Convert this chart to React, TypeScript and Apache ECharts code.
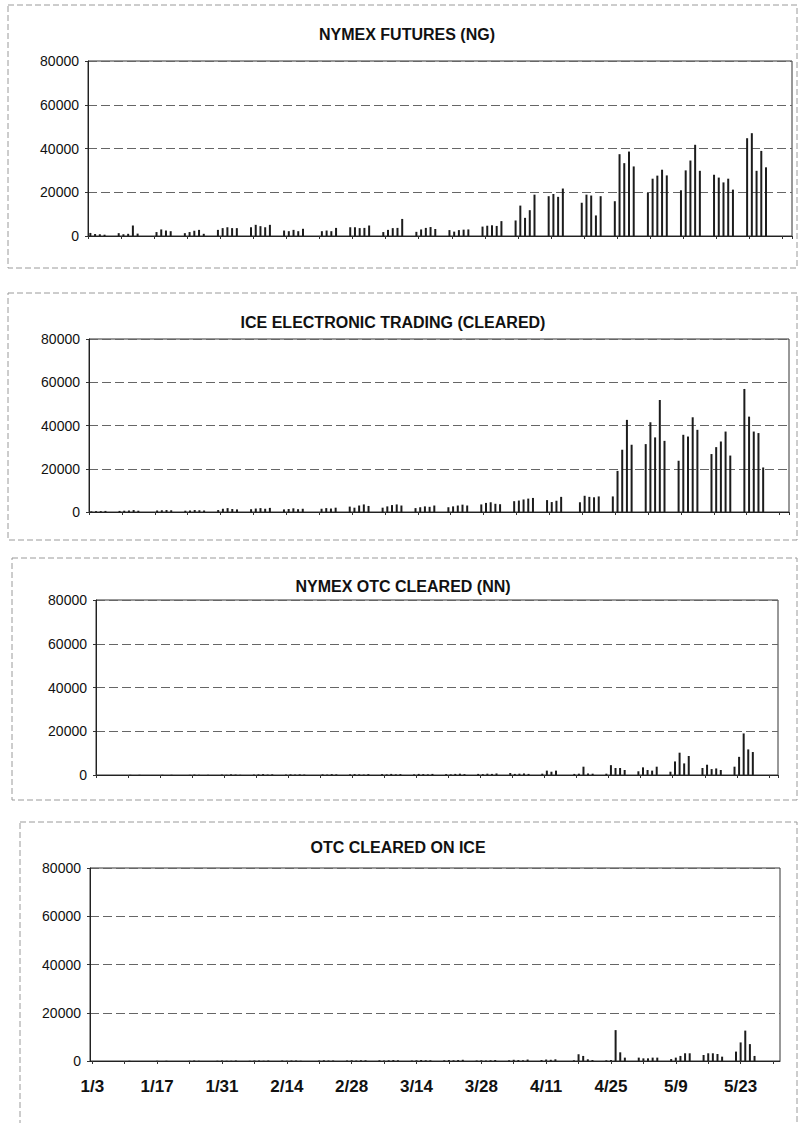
import React, { useEffect, useRef } from "react";
import * as echarts from "echarts";

// Calendar span of the x axis (2006) and market holidays inside it
const axisStart = "2006-01-03";
const axisEnd = "2006-05-31";
const lastTradingDay = "2006-05-26";
const holidays = ["1/16", "2/20", "4/14"];

// Daily volumes, one value per trading day (1/3 .. 5/26)
const nymexFutures = [
  1400, 900, 800, 600,
  1300, 800, 1000, 4800, 1100,
  1800, 3000, 2500, 2200,
  1300, 1800, 2400, 2800, 1000,
  2800, 3600, 4000, 3600, 3600,
  4000, 5100, 4500, 4000, 5100,
  2500, 2200, 2800, 2200, 3300,
  2200, 2500, 2200, 3700,
  4000, 4000, 3600, 3700, 4800,
  1800, 2800, 3600, 3700, 7800,
  1900, 3000, 3700, 4100, 3200,
  2700, 2000, 2700, 2900, 3000,
  4300, 4700, 4900, 4600, 6800,
  7100, 13900, 8300, 11800, 18900,
  18200, 19200, 17900, 21700,
  15200, 18900, 18500, 9400, 18200,
  15900, 37400, 33300, 38600, 31800,
  19700, 26200, 27600, 30300, 27700,
  20900, 30000, 34500, 41700, 29800,
  28000, 26700, 24500, 26200, 21200,
  44700, 47000, 29800, 38900, 31400,
];

const iceElectronic = [
  300, 400, 400, 500,
  500, 600, 700, 900, 600,
  700, 800, 900, 800,
  600, 700, 900, 800, 700,
  900, 1500, 1800, 1400, 1200,
  1300, 1600, 1800, 1500, 1900,
  1200, 1400, 1700, 1300, 1500,
  1500, 1800, 1600, 2000,
  2500, 2000, 3000, 3500, 2800,
  2000, 2600, 3200, 3500, 3000,
  1800, 2200, 2600, 2400, 3000,
  2200, 2600, 3000, 3400, 3000,
  3500, 4200, 4500, 3800, 3600,
  5000, 5300, 5800, 6200, 6500,
  5500, 4600, 5200, 7000,
  4500, 7500, 7000, 6800, 7200,
  7200, 19000, 28800, 42600, 31100,
  31400, 41500, 34500, 51800, 32900,
  23700, 35700, 34900, 43800, 38000,
  26800, 30000, 32600, 37200, 26100,
  56900, 44100, 37200, 36500, 20600,
];

const nymexOtc = [
  0, 0, 0, 0,
  0, 100, 0, 100, 0,
  100, 0, 100, 0,
  100, 200, 100, 0, 100,
  200, 100, 300, 200, 100,
  200, 300, 400, 200, 300,
  200, 300, 200, 300, 200,
  300, 200, 400, 300,
  300, 400, 300, 200, 400,
  400, 300, 500, 300, 400,
  300, 500, 400, 300, 500,
  400, 300, 500, 600, 400,
  500, 400, 600, 500, 700,
  900, 500, 600, 700, 500,
  600, 2000, 1500, 2000,
  500, 600, 3800, 700, 600,
  600, 4500, 3200, 3200, 2300,
  1700, 3500, 2300, 2000, 3800,
  1500, 6200, 10200, 5300, 8700,
  3200, 4700, 2700, 3000, 2300,
  3800, 8300, 19000, 11700, 10500,
];

const otcIce = [
  0, 0, 0, 0,
  0, 0, 100, 0, 0,
  100, 0, 100, 0,
  0, 100, 200, 100, 0,
  100, 200, 100, 100, 200,
  100, 200, 200, 100, 200,
  200, 100, 200, 200, 100,
  200, 300, 200, 200,
  200, 300, 200, 300, 300,
  300, 200, 300, 400, 300,
  200, 300, 400, 300, 300,
  300, 400, 300, 400, 500,
  200, 300, 200, 300, 400,
  300, 500, 400, 300, 600,
  400, 600, 500, 700,
  300, 2800, 2100, 700, 400,
  300, 400, 12800, 3600, 1400,
  1400, 1100, 1100, 1400, 1400,
  800, 1400, 2100, 3200, 3200,
  2500, 3200, 3200, 2900, 1800,
  3900, 7700, 12600, 7000, 2100,
];

const panelTitles = [
  "NYMEX FUTURES (NG)",
  "ICE ELECTRONIC TRADING (CLEARED)",
  "NYMEX OTC CLEARED (NN)",
  "OTC CLEARED ON ICE",
];
const panelSeries = [nymexFutures, iceElectronic, nymexOtc, otcIce];
const yTicks = [0, 20000, 40000, 60000, 80000];

// ---------- layout (pixels) ----------
const grids = [
  { left: 88, top: 61, width: 704, height: 175 },
  { left: 89, top: 339, width: 700, height: 173 },
  { left: 96, top: 600, width: 682, height: 175 },
  { left: 90, top: 868, width: 690, height: 193 },
];
const titlePos = [
  { x: 402, y: 21 },
  { x: 388, y: 309 },
  { x: 398, y: 573 },
  { x: 393, y: 834 },
];
const frames = [
  { x: 8, y: 5, w: 789, h: 263 },
  { x: 8, y: 293, w: 789, h: 247 },
  { x: 12, y: 558, w: 785, h: 242 },
  { x: 20, y: 822, w: 777, h: 320 },
];

function buildCalendar() {
  const out: { label: string; trading: boolean }[] = [];
  const d = new Date(axisStart + "T12:00:00");
  const end = new Date(axisEnd + "T12:00:00");
  const last = new Date(lastTradingDay + "T12:00:00");
  while (d <= end) {
    const label = `${d.getMonth() + 1}/${d.getDate()}`;
    const wd = d.getDay();
    const trading = wd !== 0 && wd !== 6 && !holidays.includes(label) && d <= last;
    out.push({ label, trading });
    d.setDate(d.getDate() + 1);
  }
  return out;
}

export default function App() {
  const ref = useRef<HTMLDivElement>(null);
  useEffect(() => {
    if (!ref.current) return;
    const chart = echarts.init(ref.current, null, { renderer: "svg" });
    const cal = buildCalendar();
    const categories = cal.map((c) => c.label);
    const toCalendar = (vals: number[]) => {
      let j = 0;
      return cal.map((c) => (c.trading ? (j < vals.length ? vals[j++] : null) : null));
    };
    const font = "'Liberation Sans', Arial, sans-serif";

    chart.setOption({
      animation: false,
      backgroundColor: "#ffffff",
      title: panelTitles.map((t, i) => ({
        text: t,
        left: titlePos[i].x,
        top: titlePos[i].y,
        textAlign: "center",
        textStyle: { fontSize: 16, fontWeight: "bold", fontFamily: font, color: "#111" },
      })),
      grid: grids.map((g) => ({
        ...g,
        show: true,
        borderColor: "#333",
        borderWidth: 1,
        backgroundColor: "transparent",
        containLabel: false,
      })),
      xAxis: grids.map((_, i) => ({
        type: "category",
        gridIndex: i,
        data: categories,
        boundaryGap: true,
        axisLine: { show: true, lineStyle: { color: "#222", width: 1 } },
        axisTick: {
          show: true,
          interval: 6,
          alignWithLabel: i === 3,
          length: 3,
          lineStyle: { color: "#333" },
        },
        axisLabel: {
          show: i === 3,
          interval: 13,
          margin: 17,
          fontSize: 17,
          fontWeight: "bold",
          fontFamily: font,
          color: "#111",
        },
        splitLine: { show: false },
      })),
      yAxis: grids.map((_, i) => ({
        type: "value",
        gridIndex: i,
        min: yTicks[0],
        max: yTicks[yTicks.length - 1],
        interval: yTicks[1] - yTicks[0],
        axisLine: { show: true, lineStyle: { color: "#222", width: 1 } },
        axisTick: { show: true, length: 3, lineStyle: { color: "#333" } },
        axisLabel: {
          fontSize: 14,
          fontFamily: font,
          color: "#111",
          margin: 9,
          formatter: (v: number) => String(v),
        },
        splitLine: { show: true, lineStyle: { color: "#666", type: [9, 4], width: 1 } },
      })),
      series: panelSeries.map((vals, i) => ({
        type: "bar",
        name: panelTitles[i],
        xAxisIndex: i,
        yAxisIndex: i,
        data: toCalendar(vals),
        barWidth: 2,
        itemStyle: { color: "#1c1c1c" },
      })),
      graphic: frames.map((f) => ({
        type: "rect",
        shape: { x: f.x, y: f.y, width: f.w, height: f.h },
        style: { fill: "none", stroke: "#9a9a9a", lineWidth: 1, lineDash: [6, 3] },
        silent: true,
        z: -1,
      })),
    });
    return () => chart.dispose();
  }, []);

  return (
    <div
      ref={ref}
      style={{ position: "absolute", left: 0, top: 0, width: 798, height: 1123, background: "#fff" }}
    />
  );
}
